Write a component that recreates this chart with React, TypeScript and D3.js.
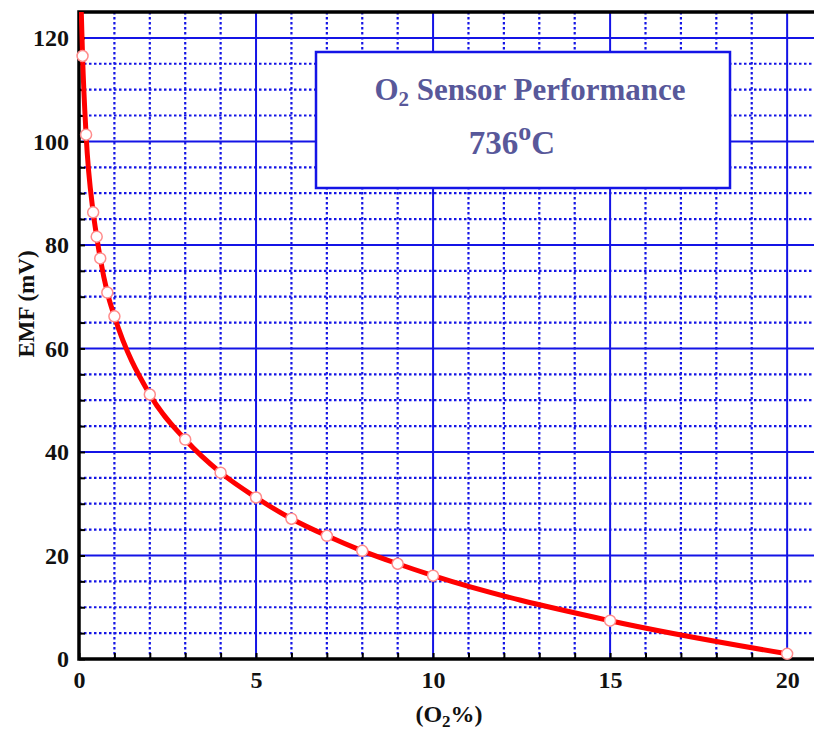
import React, { useEffect, useRef } from 'react';
import * as d3 from 'd3';

const o2Percent = [0.1, 0.2, 0.4, 0.5, 0.6, 0.8, 1, 2, 3, 4, 5, 6, 7, 8, 9, 10, 15, 20];
const emfMv = [116.5, 101.3, 86.3, 81.6, 77.4, 70.8, 66.2, 51.1, 42.4, 36.0, 31.2, 27.1, 23.8, 20.9, 18.4, 16.1, 7.4, 1.0];
// where the fitted line leaves the top of the frame
const lineStart = { o2: 0.06, emf: 126 };

const xMajorTicks = [0, 5, 10, 15, 20];
const yMajorTicks = [0, 20, 40, 60, 80, 100, 120];
const titleLine1 = ['O', '2', ' Sensor Performance'];
const titleLine2 = ['736', 'o', 'C'];

const WIDTH = 814;
const HEIGHT = 730;
const FONT = 'Liberation Serif, Times New Roman, Times, serif';
const BLUE = '#1414e6';

export default function App() {
  const svgRef = useRef<SVGSVGElement>(null);

  useEffect(() => {
    if (!svgRef.current) return;
    const svg = d3.select(svgRef.current);
    svg.selectAll('*').remove();

    const left = 79, top = 12, bottom = 659, right = 819;

    const x = d3.scaleLinear().domain([0, 20.9]).range([left, right]);
    const y = d3.scaleLinear().domain([0, 125]).range([bottom, top]);

    svg.append('defs').append('clipPath').attr('id', 'plot-clip')
      .append('rect')
      .attr('x', left).attr('y', top)
      .attr('width', right - left).attr('height', bottom - top);

    const grid = svg.append('g').attr('clip-path', 'url(#plot-clip)');

    const xMinor = d3.range(1, 21).filter(v => !xMajorTicks.includes(v));
    const yMinor = d3.range(5, 125, 5).filter(v => !yMajorTicks.includes(v));

    // minor dotted grid
    grid.selectAll('line.xminor').data(xMinor).enter().append('line')
      .attr('x1', d => x(d)).attr('x2', d => x(d))
      .attr('y1', top).attr('y2', bottom)
      .attr('stroke', BLUE).attr('stroke-width', 2.2)
      .attr('stroke-dasharray', '2.5,2.5');
    grid.selectAll('line.yminor').data(yMinor).enter().append('line')
      .attr('x1', left).attr('x2', right)
      .attr('y1', d => y(d)).attr('y2', d => y(d))
      .attr('stroke', BLUE).attr('stroke-width', 2.2)
      .attr('stroke-dasharray', '2.5,2.5');

    // major solid grid
    grid.selectAll('line.xmajor').data(xMajorTicks.slice(1)).enter().append('line')
      .attr('x1', d => x(d)).attr('x2', d => x(d))
      .attr('y1', top).attr('y2', bottom)
      .attr('stroke', BLUE).attr('stroke-width', 2);
    grid.selectAll('line.ymajor').data(yMajorTicks.slice(1)).enter().append('line')
      .attr('x1', left).attr('x2', right)
      .attr('y1', d => y(d)).attr('y2', d => y(d))
      .attr('stroke', BLUE).attr('stroke-width', 2);

    // title box
    const box = svg.append('g');
    box.append('rect')
      .attr('x', 316).attr('y', 52).attr('width', 414).attr('height', 136)
      .attr('fill', '#fff').attr('stroke', BLUE).attr('stroke-width', 2.5);

    const t1 = box.append('text')
      .attr('x', 530).attr('y', 100)
      .attr('text-anchor', 'middle')
      .attr('font-family', FONT).attr('font-weight', 'bold')
      .attr('font-size', 31).attr('fill', '#58589a');
    t1.append('tspan').text(titleLine1[0]);
    t1.append('tspan').attr('font-size', 21).attr('dy', 6).text(titleLine1[1]);
    t1.append('tspan').attr('dy', -6).text(titleLine1[2]);

    const t2 = box.append('text')
      .attr('x', 512).attr('y', 154)
      .attr('text-anchor', 'middle')
      .attr('font-family', FONT).attr('font-weight', 'bold')
      .attr('font-size', 33).attr('fill', '#58589a');
    t2.append('tspan').text(titleLine2[0]);
    t2.append('tspan').attr('font-size', 26).attr('dy', -14).text(titleLine2[1]);
    t2.append('tspan').attr('dy', 14).text(titleLine2[2]);

    // axes with inward ticks
    const tickStyle = (g: d3.Selection<SVGGElement, unknown, null, undefined>) => {
      g.select('.domain').remove();
      g.selectAll('.tick line').attr('stroke', '#000').attr('stroke-width', 2);
      g.selectAll('.tick text')
        .attr('font-family', FONT).attr('font-weight', 'bold')
        .attr('font-size', 24).attr('fill', '#111');
    };

    svg.append('g')
      .attr('transform', `translate(0,${bottom})`)
      .call(d3.axisBottom(x).tickValues(d3.range(0, 21)).tickSizeInner(-6).tickSizeOuter(0).tickPadding(12)
        .tickFormat(d => (xMajorTicks.includes(d as number) ? String(d) : '')))
      .call(tickStyle);

    svg.append('g')
      .attr('transform', `translate(${left},0)`)
      .call(d3.axisLeft(y).tickValues(d3.range(0, 125, 5)).tickSizeInner(-6).tickSizeOuter(0).tickPadding(10)
        .tickFormat(d => (yMajorTicks.includes(d as number) ? String(d) : '')))
      .call(tickStyle);

    // frame
    svg.append('rect')
      .attr('x', left).attr('y', top)
      .attr('width', right - left).attr('height', bottom - top)
      .attr('fill', 'none').attr('stroke', '#000').attr('stroke-width', 3.5);

    // axis labels
    const xl = svg.append('text')
      .attr('x', (left + right) / 2).attr('y', 722)
      .attr('text-anchor', 'middle')
      .attr('font-family', FONT).attr('font-weight', 'bold')
      .attr('font-size', 24).attr('fill', '#111');
    xl.append('tspan').text('(O');
    xl.append('tspan').attr('font-size', 17).attr('dy', 5).text('2');
    xl.append('tspan').attr('dy', -5).text('%)');

    svg.append('text')
      .attr('transform', 'translate(34,304) rotate(-90)')
      .attr('text-anchor', 'middle')
      .attr('font-family', FONT).attr('font-weight', 'bold')
      .attr('font-size', 23).attr('fill', '#111')
      .text('EMF (mV)');

    // curve and markers
    const linePts: [number, number][] = [[lineStart.o2, lineStart.emf], ...o2Percent.map((v, i) => [v, emfMv[i]] as [number, number])];
    const line = d3.line<[number, number]>()
      .x(d => x(d[0]))
      .y(d => y(d[1]))
      .curve(d3.curveMonotoneX);

    svg.append('path')
      .datum(linePts)
      .attr('clip-path', 'url(#plot-clip)')
      .attr('fill', 'none')
      .attr('stroke', '#ff0000')
      .attr('stroke-width', 5)
      .attr('d', line);

    svg.append('g').selectAll('circle')
      .data(o2Percent)
      .enter()
      .append('circle')
      .attr('cx', d => x(d))
      .attr('cy', (d, i) => y(emfMv[i]))
      .attr('r', 5.5)
      .attr('fill', '#fff')
      .attr('stroke', '#ff8c8c')
      .attr('stroke-width', 1.5);
  }, []);

  return (
    <svg
      ref={svgRef}
      width={WIDTH}
      height={HEIGHT}
      style={{ position: 'absolute', left: 0, top: 0, background: '#fff' }}
    />
  );
}
